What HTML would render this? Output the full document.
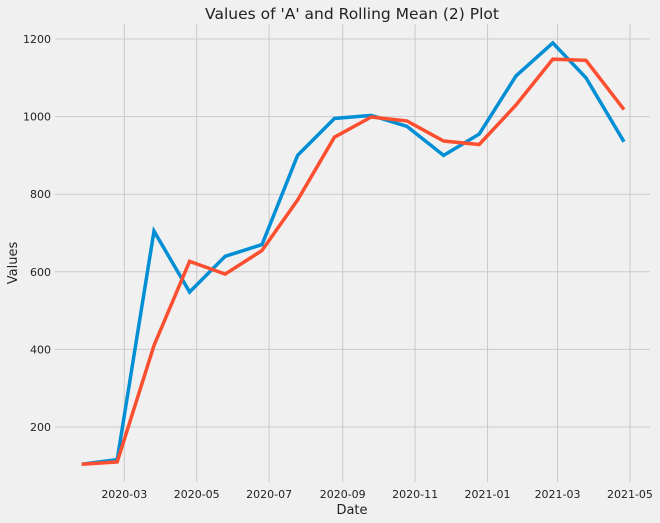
<!DOCTYPE html>
<html><head><meta charset="utf-8"><style>
body{margin:0;background:#f0f0f0;}
svg{display:block;font-family:"DejaVu Sans","Liberation Sans",sans-serif;}
</style></head><body>
<svg id="chart" width="660" height="523" viewBox="0 0 660 523">
<rect width="660" height="523" fill="#f0f0f0"/>
<text x="352" y="19" font-size="15.5" text-anchor="middle" fill="#222">Values of 'A' and Rolling Mean (2) Plot</text>
<g id="grid"></g>
<g id="series"></g>
<text x="352" y="514" font-size="13" text-anchor="middle" fill="#222">Date</text>
<text transform="translate(17,263) rotate(-90)" font-size="13" text-anchor="middle" fill="#222">Values</text>
</svg>
<script>
const dates = ["2020-01-25","2020-02-24","2020-03-26","2020-04-25","2020-05-25","2020-06-25","2020-07-25","2020-08-25","2020-09-25","2020-10-25","2020-11-25","2020-12-25","2021-01-25","2021-02-25","2021-03-25","2021-04-26"];
const valuesA = [104,116,705,548,640,670,900,995,1003,975,900,955,1105,1190,1100,935];
const rollingMean = [104,110,410,627,594,655,785,947,999,989,937,928,1030,1148,1145,1018];
const yTicks = [200,400,600,800,1000,1200];
const xTickLabels = ["2020-03","2020-05","2020-07","2020-09","2020-11","2021-01","2021-03","2021-05"];

const NS="http://www.w3.org/2000/svg";
const base = Date.UTC(2020,2,1);
function dayOf(s){const p=s.split("-").map(Number);return (Date.UTC(p[0],p[1]-1,p[2]||1)-base)/86400000;}
function xs(s){return 124.3 + dayOf(s)*1.187;}
function ys(v){return 427 - (v-200)*0.388;}
const grid=document.getElementById("grid"), ser=document.getElementById("series");
const L=55,R=650,T=24,B=482;
yTicks.forEach(v=>{
  const y=ys(v);
  const ln=document.createElementNS(NS,"line");
  ln.setAttribute("x1",L);ln.setAttribute("x2",R);ln.setAttribute("y1",y);ln.setAttribute("y2",y);
  ln.setAttribute("stroke","#cbcbcb");ln.setAttribute("stroke-width","1");
  
  
  grid.appendChild(ln);
  const t=document.createElementNS(NS,"text");
  t.setAttribute("x",51);t.setAttribute("y",y+4);t.setAttribute("text-anchor","end");
  t.setAttribute("font-size","11");t.setAttribute("fill","#222");t.textContent=v;
  
  
  grid.appendChild(t);
});
xTickLabels.forEach(lab=>{
  const x=xs(lab+"-01");
  const ln=document.createElementNS(NS,"line");
  ln.setAttribute("x1",x);ln.setAttribute("x2",x);ln.setAttribute("y1",T);ln.setAttribute("y2",B);
  ln.setAttribute("stroke","#cbcbcb");ln.setAttribute("stroke-width","1");
  
  
  grid.appendChild(ln);
  const t=document.createElementNS(NS,"text");
  t.setAttribute("x",x);t.setAttribute("y",498);t.setAttribute("text-anchor","middle");
  t.setAttribute("font-size","11");t.setAttribute("fill","#222");t.textContent=lab;
  
  
  grid.appendChild(t);
});
function line(vals,color,name){
  const p=document.createElementNS(NS,"polyline");
  p.setAttribute("points",vals.map((v,i)=>xs(dates[i]).toFixed(1)+","+ys(v).toFixed(1)).join(" "));
  p.setAttribute("fill","none");p.setAttribute("stroke",color);p.setAttribute("stroke-width","3.5");
  p.setAttribute("stroke-linejoin","miter");
  
  
  ser.appendChild(p);
}
line(valuesA,"#008fd5","series-a-line");
line(rollingMean,"#fc4f30","rolling-mean-line");
</script>
</body></html>
